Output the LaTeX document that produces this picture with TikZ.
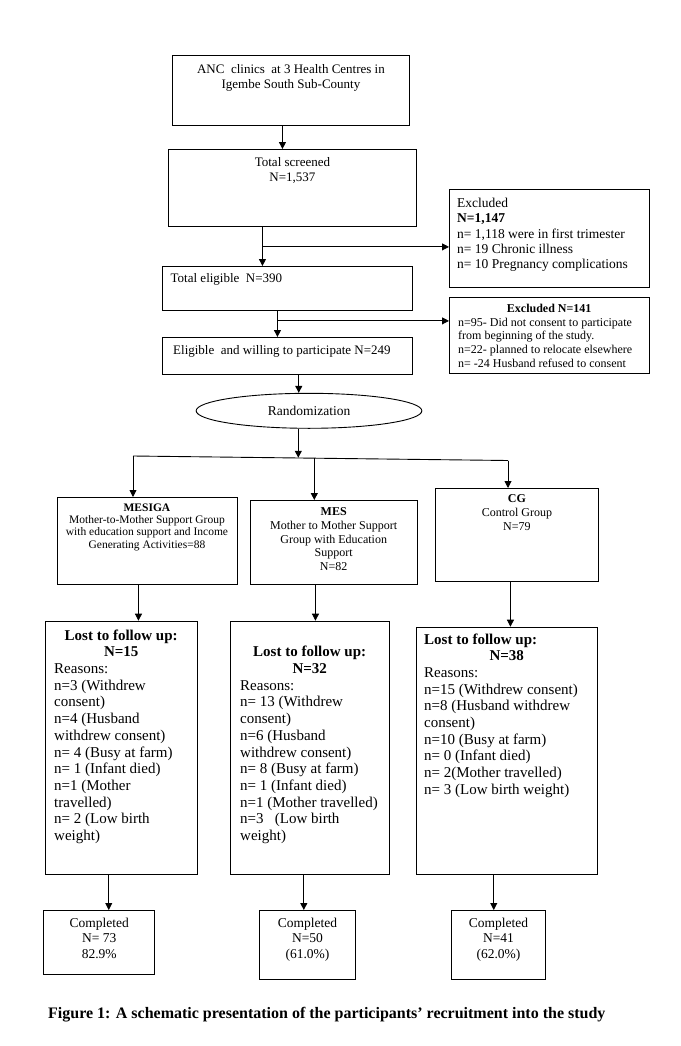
\documentclass[tikz,border=0pt]{standalone}
\usepackage{fontspec}
\setmainfont{Liberation Serif}
\usetikzlibrary{arrows.meta,positioning,shapes.geometric}

\begin{document}
\begin{tikzpicture}[x=1pt, y=-1pt,
    box/.style={draw, line width=0.9pt, anchor=north west, inner sep=0pt},
    txt/.style={inner sep=0pt, align=center},
    ltxt/.style={inner sep=0pt, align=left},
    arr/.style={-{Triangle[length=7pt,width=7pt]}, line width=0.9pt},
    upper/.style={font=\fontsize{13}{15}\selectfont},
    grp/.style={font=\fontsize{12}{13.8}\selectfont},
    lost/.style={font=\fontsize{15}{16.7}\selectfont},
    done/.style={font=\fontsize{13.5}{15.5}\selectfont}
  ]
  \useasboundingbox (0,0) rectangle (680,1046);

  % screening column
  \node[box, minimum width=237, minimum height=70] (anc) at (172,55) {};
  \node[txt, upper, below=9.5pt of anc.north] (anc-t)
    {ANC~ clinics~ at 3 Health Centres in\\Igembe South Sub-County};
  \node[box, minimum width=248, minimum height=77] (screen) at (168,149) {};
  \node[txt, upper, below=8pt of screen.north] (screen-t) {Total screened\\N=1,537};
  \node[box, minimum width=200, minimum height=98] (excl1) at (449,189) {};
  \node[ltxt, font=\fontsize{13.5}{15.3}\selectfont, below right=9pt and 8pt of excl1.north west] (excl1-t)
    {Excluded\\\textbf{N=1,147}\\n= 1,118 were in first trimester\\n= 19 Chronic illness\\n= 10 Pregnancy complications};
  \node[box, minimum width=250, minimum height=44] (elig) at (162,266) {};
  \node[ltxt, upper, below right=7pt and 8.5pt of elig.north west] (elig-t) {Total eligible~ N=390};
  \node[box, minimum width=200, minimum height=76] (excl2) at (449,297) {};
  \node[ltxt, font=\fontsize{12}{13.7}\selectfont, below right=7pt and 9pt of excl2.north west] (excl2-t)
    {\makebox[182pt]{\textbf{Excluded N=141}}\\n=95- Did not consent to participate\\from beginning of the study.\\n=22- planned to relocate elsewhere\\n= -24 Husband refused to consent};
  \node[box, minimum width=250, minimum height=37] (will) at (162,337) {};
  \node[ltxt, upper, below right=8.2pt and 11pt of will.north west] (will-t)
    {Eligible~ and willing to participate N=249};
  \node[draw, ellipse, line width=0.9pt, minimum width=225.7, minimum height=35,
        font=\fontsize{13.5}{15}\selectfont] (rand) at (309,410.8) {Randomization};

  % arms
  \node[box, minimum width=180, minimum height=87] (grp1) at (56.5,497) {};
  \node[txt, font=\fontsize{11.5}{12.3}\selectfont, below=6.4pt of grp1.north] (grp1-t)
    {\textbf{MESIGA}\\Mother-to-Mother Support Group\\with education support and Income\\Generating Activities=88};
  \node[box, minimum width=167.5, minimum height=84] (grp2) at (249.5,500) {};
  \node[txt, grp, below=7.3pt of grp2.north] (grp2-t)
    {\textbf{MES}\\Mother to Mother Support\\Group with Education\\Support\\N=82};
  \node[box, minimum width=163, minimum height=93.3] (grp3) at (435,488) {};
  \node[txt, grp, below=6.6pt of grp3.north] (grp3-t) {\textbf{CG}\\Control Group\\N=79};

  % lost to follow up
  \node[box, minimum width=152, minimum height=253.3] (lost1) at (45,620.7) {};
  \node[ltxt, lost, below right=8.7pt and 9pt of lost1.north west] (lost1-t)
    {\makebox[134pt]{\textbf{Lost to follow up:}}\\\makebox[134pt]{\textbf{N=15}}\\Reasons:\\n=3 (Withdrew\\consent)\\n=4 (Husband\\withdrew consent)\\n= 4 (Busy at farm)\\n= 1 (Infant died)\\n=1 (Mother\\travelled)\\n= 2 (Low birth\\weight)};
  \node[box, minimum width=158.7, minimum height=253.3] (lost2) at (230,620.7) {};
  \node[ltxt, lost, below right=25.4pt and 10pt of lost2.north west] (lost2-t)
    {\makebox[139pt]{\textbf{Lost to follow up:}}\\\makebox[139pt]{\textbf{N=32}}\\Reasons:\\n= 13 (Withdrew\\consent)\\n=6 (Husband\\withdrew consent)\\n= 8 (Busy at farm)\\n= 1 (Infant died)\\n=1 (Mother travelled)\\n=3~~ (Low birth\\weight)};
  \node[box, minimum width=181.6, minimum height=247.6] (lost3) at (415.7,626.7) {};
  \node[ltxt, lost, below right=6.6pt and 8.3pt of lost3.north west] (lost3-t)
    {\textbf{Lost to follow up:}\\\makebox[165pt]{\textbf{N=38}}\\Reasons:\\n=15 (Withdrew consent)\\n=8 (Husband withdrew\\consent)\\n=10 (Busy at farm)\\n= 0 (Infant died)\\n= 2(Mother travelled)\\n= 3 (Low birth weight)};

  % completed
  \node[box, minimum width=111, minimum height=64] (done1) at (43.3,910) {};
  \node[txt, done, below=7.6pt of done1.north] (done1-t) {Completed\\N= 73\\82.9\%};
  \node[box, minimum width=96, minimum height=69] (done2) at (259,910) {};
  \node[txt, done, below=7.6pt of done2.north] (done2-t) {Completed\\N=50\\(61.0\%)};
  \node[box, minimum width=94.6, minimum height=69] (done3) at (450.7,910) {};
  \node[txt, done, below=7.6pt of done3.north] (done3-t) {Completed\\N=41\\(62.0\%)};

  \node[anchor=west, inner sep=0pt, font=\fontsize{16}{18}\selectfont\bfseries] (cap) at (48,1015)
    {Figure 1: A schematic presentation of the participants’ recruitment into the study};

  % connectors
  \draw[arr] ([xshift=-8.5pt]anc.south) coordinate (t1) -- (t1 |- screen.north);
  \draw[arr] ([xshift=-30pt]screen.south) coordinate (t2) -- (t2 |- elig.north);
  \draw[arr] (t2) ++(0,20) coordinate (j1) -- (j1 -| excl1.west);
  \draw[arr] ([xshift=-10pt]elig.south) coordinate (t3) -- (t3 |- will.north);
  \draw[arr] (t3) ++(0,10) coordinate (j2) -- (j2 -| excl2.west);
  \draw[arr] ([xshift=11.3pt]will.south) coordinate (t4) -- (t4 |- rand.north);
  \draw[arr] ([xshift=-10.7pt]rand.south) -- ++(0,29) coordinate (t5);

  \coordinate (sl) at (133,456);
  \coordinate (sm) at (314.3,458.2);
  \coordinate (sr) at (508,460.5);
  \draw[line width=0.9pt] (sl) -- (sr);
  \draw[arr] (sl) -- (sl |- grp1.north);
  \draw[arr] (sm) -- (sm |- grp2.north);
  \draw[arr] (sr) -- (sr |- grp3.north);

  \draw[arr] ([xshift=-8.5pt]grp1.south) coordinate (g1) -- (g1 |- lost1.north);
  \draw[arr] ([xshift=-18.25pt]grp2.south) coordinate (g2) -- (g2 |- lost2.north);
  \draw[arr] ([xshift=-6.5pt]grp3.south) coordinate (g3) -- (g3 |- lost3.north);

  \draw[arr] ([xshift=-12.7pt]lost1.south) coordinate (l1) -- (l1 |- done1.north);
  \draw[arr] ([xshift=-6pt]lost2.south) coordinate (l2) -- (l2 |- done2.north);
  \draw[arr] ([xshift=-13.2pt]lost3.south) coordinate (l3) -- (l3 |- done3.north);
\end{tikzpicture}
\end{document}
